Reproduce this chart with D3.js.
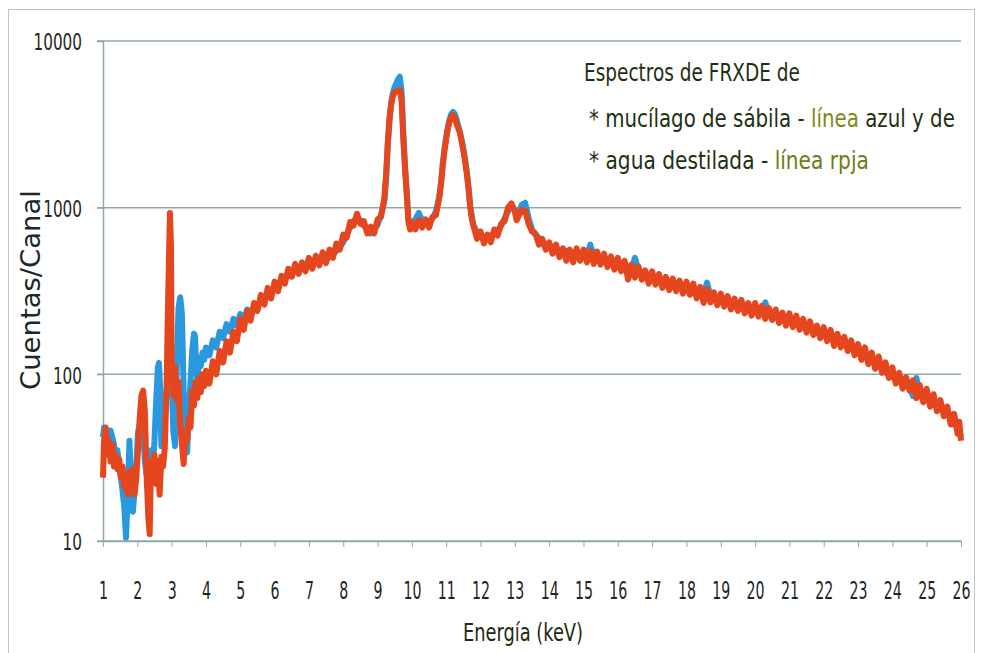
<!DOCTYPE html>
<html>
<head>
<meta charset="utf-8">
<script src="https://cdnjs.cloudflare.com/ajax/libs/d3/7.8.5/d3.min.js"></script>
<style>
  body { margin: 0; background: #fff; }
  text { font-family: "Liberation Sans Narrow", "DejaVu Sans Condensed", "Open Sans", sans-serif; }
</style>
</head>
<body>
<div id="svg_container"></div>
<script>
// Data: [energia keV, cuentas/canal]
var xTicks = d3.range(1, 27);
var yTicks = [10, 100, 1000, 10000];

// mucílago de sábila (blue)
var blueSeries = [
  [1.0,42],[1.03,48],[1.08,40],[1.12,45],[1.17,36],[1.22,46],[1.27,42],[1.32,38],[1.37,30],[1.42,35],
  [1.47,28],[1.52,24],[1.57,20],[1.62,16],[1.67,10.5],[1.72,18],[1.77,40],[1.82,22],[1.87,15],[1.92,20],
  [1.97,28],[2.02,45],[2.07,50],[2.12,40],[2.17,45],[2.22,30],[2.27,25],[2.32,28],[2.36,30],[2.4,35],
  [2.45,28],[2.5,40],[2.55,70],[2.6,110],[2.63,117],[2.67,80],[2.7,37],[2.75,45],[2.8,60],[2.85,75],
  [2.9,110],[2.95,130],[3.0,90],[3.05,45],[3.1,37],[3.15,110],[3.2,250],[3.25,290],[3.3,230],[3.35,80],
  [3.4,40],[3.45,34],[3.5,60],[3.55,90],[3.6,140],[3.65,175],[3.68,170],[3.72,110],[3.75,90],[3.8,125],
  [3.85,112],[3.9,135],[3.95,122],[4.0,145],[4.1,130],[4.2,160],[4.3,145],[4.4,180],[4.5,165],[4.6,200],
  [4.7,180],[4.8,215],[4.9,195],[5.0,230],[5.1,210],[5.2,245],[5.3,225],[5.4,250],[5.5,262],[5.6,268],
  [5.7,285],[5.8,290],[5.9,315],[6.0,320],[6.1,340],[6.2,355],[6.3,385],[6.4,390],[6.5,415],[6.6,420],
  [6.7,435],[6.8,430],[6.9,450],[7.0,450],[7.1,465],[7.2,465],[7.3,485],[7.4,485],[7.5,505],[7.6,505],
  [7.7,525],[7.8,550],[7.9,580],[8.0,620],[8.1,690],[8.2,760],[8.3,830],[8.4,870],[8.5,840],[8.6,780],
  [8.7,740],[8.8,700],[8.9,740],[9.0,790],[9.1,900],[9.2,1100],[9.25,1500],[9.3,2400],[9.35,3400],[9.4,4300],
  [9.45,4900],[9.5,5300],[9.55,5600],[9.6,5900],[9.65,6100],[9.7,5000],[9.75,2800],[9.8,1800],[9.85,1250],[9.9,850],
  [9.95,800],[10.0,790],[10.1,850],[10.2,930],[10.3,840],[10.4,810],[10.5,830],[10.6,860],[10.7,950],[10.8,1170],
  [10.85,1420],[10.9,1820],[10.95,2250],[11.0,2650],[11.05,3050],[11.1,3400],[11.15,3650],[11.2,3750],[11.25,3650],[11.3,3400],
  [11.35,3100],[11.4,2850],[11.45,2550],[11.5,2250],[11.55,1950],[11.6,1650],[11.65,1330],[11.7,1030],[11.75,870],[11.8,780],
  [11.9,710],[12.0,680],[12.1,660],[12.2,650],[12.3,670],[12.4,710],[12.5,730],[12.6,780],[12.7,860],[12.8,950],
  [12.9,1030],[13.0,960],[13.05,880],[13.1,920],[13.2,1040],[13.3,1070],[13.4,870],[13.5,740],[13.6,690],[13.7,660],
  [13.8,630],[13.9,600],[14.0,590],[14.1,575],[14.2,565],[14.3,555],[14.4,540],[14.5,550],[14.6,525],[14.7,540],
  [14.8,520],[14.9,530],[15.0,525],[15.1,520],[15.2,600],[15.3,510],[15.4,495],[15.5,500],[15.6,485],[15.7,490],
  [15.8,475],[15.9,480],[16.0,470],[16.1,465],[16.2,450],[16.3,445],[16.4,430],[16.5,500],[16.6,420],[16.7,410],
  [16.8,400],[16.9,395],[17.0,385],[17.1,380],[17.2,370],[17.3,365],[17.4,355],[17.5,350],[17.6,345],[17.7,340],
  [17.8,330],[17.9,335],[18.0,330],[18.1,325],[18.2,315],[18.3,312],[18.4,300],[18.5,300],[18.6,355],[18.7,295],
  [18.8,285],[18.9,285],[19.0,278],[19.1,275],[19.2,268],[19.3,268],[19.4,258],[19.5,262],[19.6,255],[19.7,252],
  [19.8,245],[19.9,246],[20.0,245],[20.1,242],[20.2,236],[20.3,270],[20.4,228],[20.5,232],[20.6,225],[20.7,222],
  [20.8,215],[20.9,218],[21.0,212],[21.1,210],[21.2,205],[21.3,202],[21.4,194],[21.5,198],[21.6,190],[21.7,188],
  [21.8,180],[21.9,180],[22.0,176],[22.1,172],[22.2,166],[22.3,163],[22.4,155],[22.5,158],[22.6,150],[22.7,150],
  [22.8,142],[22.9,142],[23.0,136],[23.1,136],[23.2,128],[23.3,128],[23.4,120],[23.5,118],[23.6,112],[23.7,110],
  [23.8,102],[23.9,102],[24.0,96],[24.1,96],[24.2,90],[24.3,88],[24.4,85],[24.5,84],[24.6,74],[24.7,95],
  [24.8,76],[24.9,75],[25.0,74],[25.1,72],[25.2,68],[25.3,66],[25.4,62],[25.5,61],[25.6,57],[25.7,56],
  [25.8,50],[25.9,50],[26.0,42]
];

// agua destilada (red)
var redSeries = [
  [1.0,24],[1.03,40],[1.08,48],[1.12,33],[1.17,40],[1.22,30],[1.27,38],[1.32,28],[1.37,33],[1.42,27],
  [1.47,31],[1.52,24],[1.57,28],[1.62,21],[1.67,25],[1.72,19],[1.77,26],[1.82,22],[1.87,27],[1.92,19],
  [1.97,24],[2.02,35],[2.07,55],[2.12,75],[2.17,80],[2.22,60],[2.27,25],[2.32,14],[2.36,11],[2.4,30],
  [2.45,24],[2.5,33],[2.55,22],[2.6,30],[2.65,19],[2.7,32],[2.75,28],[2.8,36],[2.85,80],[2.9,300],
  [2.95,930],[2.98,600],[3.0,130],[3.05,75],[3.1,110],[3.15,70],[3.2,90],[3.25,50],[3.3,38],[3.35,29],
  [3.4,45],[3.45,40],[3.5,55],[3.55,48],[3.6,80],[3.65,65],[3.7,90],[3.75,72],[3.8,95],[3.85,78],
  [3.9,100],[3.95,85],[4.0,105],[4.1,88],[4.2,120],[4.3,100],[4.4,138],[4.5,118],[4.6,158],[4.7,135],
  [4.8,180],[4.9,158],[5.0,215],[5.1,185],[5.2,240],[5.3,210],[5.4,268],[5.5,240],[5.6,300],[5.7,262],
  [5.8,330],[5.9,285],[6.0,360],[6.1,315],[6.2,390],[6.3,350],[6.4,430],[6.5,385],[6.6,460],[6.7,400],
  [6.8,470],[6.9,415],[7.0,500],[7.1,430],[7.2,515],[7.3,450],[7.4,540],[7.5,465],[7.6,560],[7.7,500],
  [7.8,610],[7.9,560],[8.0,690],[8.1,660],[8.2,820],[8.3,780],[8.4,920],[8.5,800],[8.6,830],[8.7,700],
  [8.8,770],[8.9,700],[9.0,850],[9.1,880],[9.2,1150],[9.25,1600],[9.3,2500],[9.35,3500],[9.4,4200],[9.45,4700],
  [9.5,4900],[9.55,5000],[9.6,5000],[9.65,5100],[9.7,4400],[9.75,2600],[9.8,1700],[9.85,1200],[9.9,820],[9.95,740],
  [10.0,820],[10.1,740],[10.2,840],[10.3,760],[10.4,850],[10.5,760],[10.6,880],[10.7,900],[10.8,1150],[10.85,1400],
  [10.9,1800],[10.95,2200],[11.0,2600],[11.05,3000],[11.1,3300],[11.15,3500],[11.2,3600],[11.25,3450],[11.3,3200],[11.35,3000],
  [11.4,2800],[11.45,2500],[11.5,2200],[11.55,1900],[11.6,1600],[11.65,1300],[11.7,1000],[11.75,850],[11.8,770],[11.9,650],
  [12.0,720],[12.1,610],[12.2,690],[12.3,620],[12.4,740],[12.5,680],[12.6,800],[12.7,830],[12.8,1000],[12.9,1060],
  [13.0,950],[13.05,840],[13.1,880],[13.2,970],[13.3,960],[13.4,800],[13.5,720],[13.6,700],[13.7,600],[13.8,650],
  [13.9,560],[14.0,620],[14.1,530],[14.2,600],[14.3,505],[14.4,570],[14.5,480],[14.6,560],[14.7,470],[14.8,570],
  [14.9,480],[15.0,560],[15.1,470],[15.2,550],[15.3,460],[15.4,545],[15.5,455],[15.6,530],[15.7,440],[15.8,510],
  [15.9,425],[16.0,500],[16.1,415],[16.2,480],[16.3,370],[16.4,455],[16.5,380],[16.6,445],[16.7,370],[16.8,420],
  [16.9,350],[17.0,415],[17.1,345],[17.2,400],[17.3,330],[17.4,385],[17.5,320],[17.6,375],[17.7,315],[17.8,365],
  [17.9,305],[18.0,360],[18.1,300],[18.2,350],[18.3,285],[18.4,335],[18.5,268],[18.6,325],[18.7,270],[18.8,310],
  [18.9,260],[19.0,305],[19.1,255],[19.2,295],[19.3,245],[19.4,285],[19.5,240],[19.6,280],[19.7,232],[19.8,268],
  [19.9,225],[20.0,268],[20.1,222],[20.2,258],[20.3,215],[20.4,250],[20.5,212],[20.6,245],[20.7,203],[20.8,235],
  [20.9,196],[21.0,232],[21.1,192],[21.2,225],[21.3,185],[21.4,215],[21.5,178],[21.6,208],[21.7,172],[21.8,196],
  [21.9,165],[22.0,192],[22.1,158],[22.2,185],[22.3,148],[22.4,175],[22.5,145],[22.6,168],[22.7,138],[22.8,160],
  [22.9,130],[23.0,152],[23.1,122],[23.2,145],[23.3,115],[23.4,135],[23.5,108],[23.6,128],[23.7,102],[23.8,118],
  [23.9,95],[24.0,110],[24.1,88],[24.2,102],[24.3,82],[24.4,96],[24.5,80],[24.6,92],[24.7,72],[24.8,86],
  [24.9,68],[25.0,82],[25.1,64],[25.2,76],[25.3,60],[25.4,70],[25.5,56],[25.6,64],[25.7,50],[25.8,58],
  [25.9,44],[25.95,52],[26.0,40]
];

// Chart dimension
var W = 982, H = 653;
var margin = {top: 41, right: 21, bottom: 112, left: 103};
var width = W - margin.left - margin.right;
var height = H - margin.top - margin.bottom;

var svg = d3.select("#svg_container")
    .append("svg")
    .attr("width", W)
    .attr("height", H);

// outer frame
svg.append("rect")
    .attr("x", 8.5).attr("y", 9.5)
    .attr("width", 966).attr("height", 660)
    .attr("fill", "none")
    .attr("stroke", "#b9c4c4")
    .attr("stroke-width", 1);

var g = svg.append("g").attr("transform", "translate(" + margin.left + "," + margin.top + ")");

var x = d3.scaleLinear().domain([1, 26]).range([0, width]);
var y = d3.scaleLog().domain([10, 10000]).range([height, 0]);

var gridColor = "#8eaaa8";

// horizontal gridlines
g.selectAll(".grid")
    .data(yTicks)
    .enter().append("line")
    .attr("x1", -6).attr("x2", width)
    .attr("y1", function(d) { return y(d); })
    .attr("y2", function(d) { return y(d); })
    .attr("stroke", gridColor)
    .attr("stroke-width", 1.5);

// Y axis
var yAxis = g.append("g")
    .call(d3.axisLeft(y).tickValues(yTicks).tickFormat(d3.format("d")).tickSize(6));
yAxis.select(".domain").attr("stroke", gridColor).attr("stroke-width", 1.5);
yAxis.selectAll(".tick line").attr("stroke", gridColor);
yAxis.selectAll(".tick text")
    .attr("x", -21)
    .attr("dy", "0.38em")
    .attr("fill", "#1d2626")
    .style("font-size", "23px")
    .attr("textLength", function(d) { return String(d).length * 9.7; })
    .attr("lengthAdjust", "spacingAndGlyphs");

// X axis
var xAxis = g.append("g")
    .attr("transform", "translate(0," + height + ")")
    .call(d3.axisBottom(x).tickValues(xTicks).tickFormat(d3.format("d")).tickSize(6).tickSizeOuter(0));
xAxis.select(".domain").attr("stroke", gridColor).attr("stroke-width", 1.5);
xAxis.selectAll(".tick line").attr("stroke", gridColor);
xAxis.selectAll(".tick text")
    .attr("y", 58)
    .attr("dy", 0)
    .attr("fill", "#1d2626")
    .style("font-size", "24px")
    .attr("textLength", function(d) { return String(d).length * 9; })
    .attr("lengthAdjust", "spacingAndGlyphs");

// series lines
var line = d3.line()
    .x(function(d) { return x(d[0]); })
    .y(function(d) { return y(d[1]); });

g.append("path")
    .datum(blueSeries)
    .attr("d", line)
    .attr("fill", "none")
    .attr("stroke", "#2a98dc")
    .attr("stroke-width", 6)
    .attr("stroke-linejoin", "round");

g.append("path")
    .datum(redSeries)
    .attr("d", line)
    .attr("fill", "none")
    .attr("stroke", "#e5461e")
    .attr("stroke-width", 6)
    .attr("stroke-linejoin", "round");

// axis titles
svg.append("text")
    .attr("transform", "translate(40,290) rotate(-90)")
    .attr("text-anchor", "middle")
    .attr("fill", "#1a2828")
    .style("font-size", "26px")
    .attr("textLength", 200)
    .attr("lengthAdjust", "spacingAndGlyphs")
    .text("Cuentas/Canal");

svg.append("text")
    .attr("x", 463).attr("y", 641)
    .attr("fill", "#1e2a14")
    .style("font-size", "24px")
    .attr("textLength", 120)
    .attr("lengthAdjust", "spacingAndGlyphs")
    .text("Energía (keV)");

// legend text: each line squeezed horizontally to its width in the figure
var legendLines = [
    {x: 584, y: 81, len: 216, parts: [["Espectros de FRXDE de", "#1e3012"]]},
    {x: 589, y: 127, len: 366, parts: [["* mucílago de sábila - ", "#1e3012"], ["línea", "#7c8a12"], [" azul y de", "#1e3012"]]},
    {x: 589, y: 169, len: 280, parts: [["* agua destilada - ", "#1e3012"], ["línea rpja", "#6e7c14"]]}
];

legendLines.forEach(function(l) {
    var lg = svg.append("g");
    var t = lg.append("text")
        .attr("x", 0).attr("y", 0)
        .style("font-size", "25px")
        .style("white-space", "pre");
    l.parts.forEach(function(p) {
        t.append("tspan").attr("fill", p[1]).text(p[0]);
    });
    var w = t.node().getComputedTextLength();
    lg.attr("transform", "translate(" + l.x + "," + l.y + ") scale(" + (l.len / w) + ",1)");
});
</script>
</body>
</html>
